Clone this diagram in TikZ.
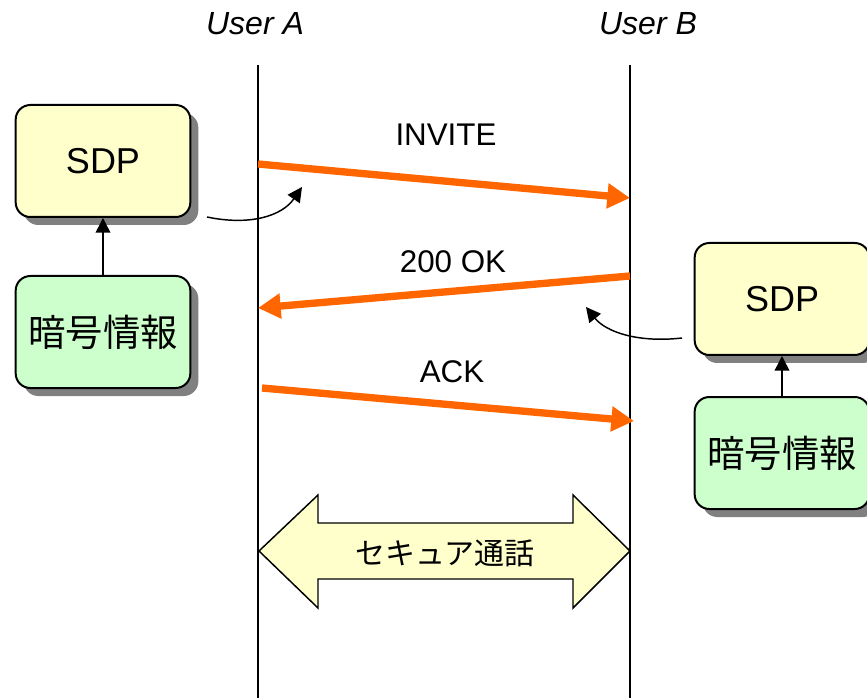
\documentclass[tikz,border=0pt]{standalone}
\usepackage{fontspec}
\setmainfont{Liberation Sans}
\newfontfamily\jafont{Noto Sans CJK JP}
\usetikzlibrary{shadows,arrows.meta}
\definecolor{sdpyellow}{HTML}{FFFFCC}
\definecolor{keygreen}{HTML}{CCFFCC}
\definecolor{siporange}{HTML}{FF6600}
\tikzset{sdpbox/.style={draw,line width=1.5pt,rounded corners=11pt,fill=sdpyellow,minimum width=131pt,minimum height=84pt,font=\fontsize{27}{30}\selectfont,drop shadow={shadow xshift=6pt,shadow yshift=-6pt,fill=black!50,opacity=1}},
	keybox/.style={sdpbox,fill=keygreen,font=\jafont\fontsize{28}{30}\selectfont},
	msg/.style={draw=siporange,line width=5.5pt,-{Triangle[length=17pt,width=18pt]}},
	msglabel/.style={font=\fontsize{23.5}{26}\selectfont},
	life/.style={line width=1.5pt},
	feed/.style={line width=1.1pt,-{Triangle[length=11pt,width=11pt]}}}

\begin{document}
\begin{tikzpicture}[x=0.75pt,y=-0.75pt]
	\useasboundingbox (0,0) rectangle (867,698);
	\node[font=\fontsize{24}{26}\selectfont\itshape] (ua) at (255,24) {User A};
	\node[font=\fontsize{24}{26}\selectfont\itshape] (ub) at (648,24) {User B};
	\coordinate (ta) at (258,65);
	\coordinate (ba) at (258,698);
	\coordinate (tb) at (630,65);
	\coordinate (bb) at (630,698);
	\draw[life] (ta) -- (ba);
	\draw[life] (tb) -- (bb);

	\node[sdpbox] (sdpa) at (103,161) {SDP};
	\node[keybox] (keya) at (103,332) {暗号情報};
	\node[sdpbox] (sdpb) at (782,299) {SDP};
	\node[keybox] (keyb) at (782,453) {暗号情報};
	\draw[feed] (keya) -- (sdpa);
	\draw[feed] (keyb) -- (sdpb);

	\coordinate (inv1) at (258,164);
	\coordinate (inv2) at (630,198);
	\coordinate (ok1) at (630,276);
	\coordinate (ok2) at (258,308);
	\coordinate (ack1) at (262,388);
	\coordinate (ack2) at (634,421);
	\draw[msg] (inv1) -- (inv2);
	\draw[msg] (ok1) -- (ok2);
	\draw[msg] (ack1) -- (ack2);
	\node[msglabel] (invite) at (446,135) {INVITE};
	\node[msglabel] (ok) at (453,262) {200 OK};
	\node[msglabel] (ack) at (452,372) {ACK};

	\coordinate (cura) at (207,217);
	\coordinate (tipa) at (302,187);
	\coordinate (curb) at (682,338);
	\coordinate (tipb) at (586,307);
	\draw[feed] (cura) .. controls (250,226) and (282,216) .. (tipa);
	\draw[feed] (curb) .. controls (638,343) and (606,332) .. (tipb);

	\draw[line width=1.1pt,fill=sdpyellow] (259,551) -- (318,495) -- (318,523) -- (573,523) -- (573,495) -- (630,551) -- (573,608) -- (573,579) -- (318,579) -- (318,608) -- cycle;
	\node[font=\jafont\fontsize{22.5}{24}\selectfont] (call) at (445,553) {セキュア通話};
\end{tikzpicture}
\end{document}
